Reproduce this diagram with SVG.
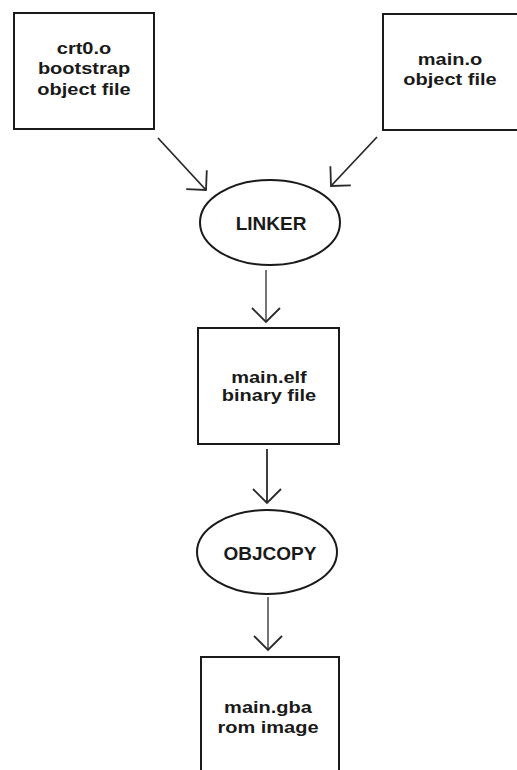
<svg xmlns="http://www.w3.org/2000/svg" width="517" height="770" viewBox="0 0 517 770">
  <style>
    .box { fill: #fff; stroke: #1a1a1a; stroke-width: 2; }
    .oval { fill: #fff; stroke: #1a1a1a; stroke-width: 2; }
    .t { font-family: "Liberation Sans", Arial, sans-serif; font-weight: bold; font-size: 16px; fill: #1a1a1a; text-anchor: middle; }
    .te { font-family: "Liberation Sans", Arial, sans-serif; font-weight: bold; font-size: 19px; fill: #1a1a1a; text-anchor: middle; }
    .conn { fill: none; stroke: #2a2a2a; stroke-width: 1.8; }
  </style>
  <defs>
    <marker id="ah" viewBox="-16 -16 32 32" refX="0" refY="0" markerWidth="32" markerHeight="32" markerUnits="userSpaceOnUse" orient="auto" overflow="visible">
      <path d="M-14,-14 L0,0 L-14,14" fill="none" stroke="#2a2a2a" stroke-width="1.8"/>
    </marker>
  </defs>
  <rect width="517" height="770" fill="#fff"/>

  <g id="crt0">
    <rect class="box" x="14" y="13" width="140" height="116"/>
    <text class="t" transform="translate(84,0) scale(1.25,1)"><tspan x="0" y="54">crt0.o</tspan><tspan x="0" y="74.5">bootstrap</tspan><tspan x="0" y="95">object file</tspan></text>
  </g>

  <g id="maino">
    <rect class="box" x="383" y="14" width="150" height="116"/>
    <text class="t" transform="translate(450,0) scale(1.25,1)"><tspan x="0" y="65">main.o</tspan><tspan x="0" y="85">object file</tspan></text>
  </g>

  <g id="linker">
    <ellipse class="oval" cx="270" cy="222.5" rx="70" ry="42.5"/>
    <text class="te" x="271" y="230">LINKER</text>
  </g>

  <g id="mainelf">
    <rect class="box" x="198" y="328" width="141" height="116"/>
    <text class="t" transform="translate(269,0) scale(1.25,1)"><tspan x="0" y="383">main.elf</tspan><tspan x="0" y="401">binary file</tspan></text>
  </g>

  <g id="objcopy">
    <ellipse class="oval" cx="267" cy="552" rx="70" ry="42"/>
    <text class="te" x="270" y="560">OBJCOPY</text>
  </g>

  <g id="maingba">
    <rect class="box" x="201" y="657" width="138" height="130"/>
    <text class="t" transform="translate(268,0) scale(1.25,1)"><tspan x="0" y="713">main.gba</tspan><tspan x="0" y="733">rom image</tspan></text>
  </g>

  <g id="connectors">
    <line class="conn" x1="158" y1="138" x2="206" y2="190" marker-end="url(#ah)"/>
    <line class="conn" x1="377" y1="137" x2="331" y2="186" marker-end="url(#ah)"/>
    <line class="conn" x1="266" y1="270" x2="266" y2="322" marker-end="url(#ah)" style="stroke:#666"/>
    <line class="conn" x1="267" y1="449" x2="267" y2="503" marker-end="url(#ah)"/>
    <line class="conn" x1="268" y1="597" x2="268" y2="650" marker-end="url(#ah)" style="stroke:#666"/>
  </g>
</svg>
